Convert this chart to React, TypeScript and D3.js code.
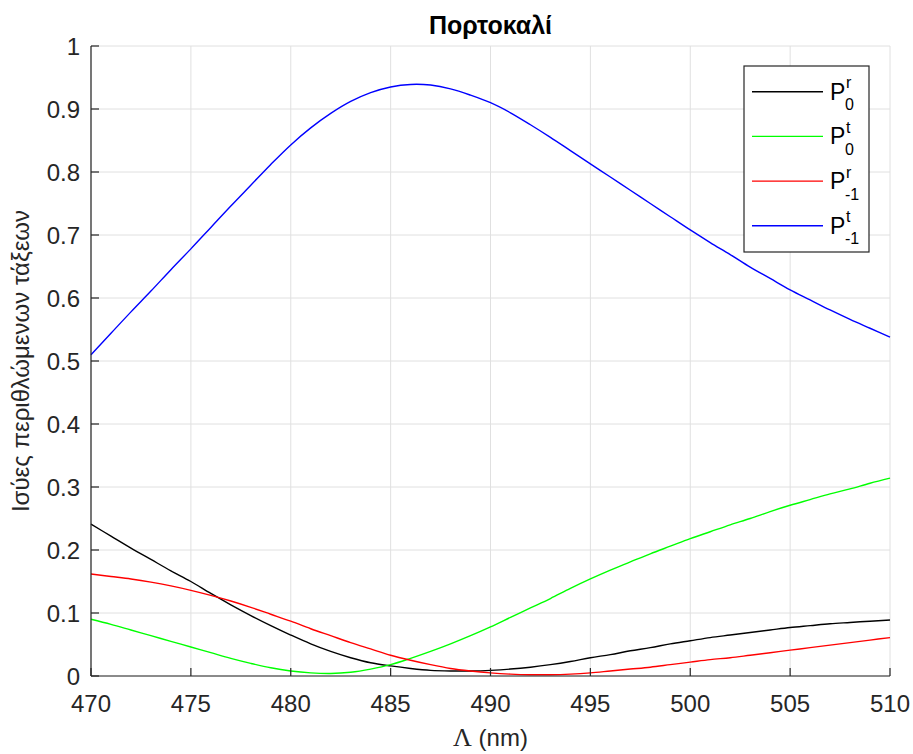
import React from "react";
import * as d3 from "d3";

const W = 913;
const H = 754;
const MARGIN = { top: 46, right: 23, bottom: 78, left: 91 };
const INNER_W = W - MARGIN.left - MARGIN.right;
const INNER_H = H - MARGIN.top - MARGIN.bottom;

const FONT = '"Liberation Sans", Arial, Helvetica, sans-serif';
const AXIS_COLOR = "#262626";
const GRID_COLOR = "#e0e0e0";

const TITLE = "Πορτοκαλί";
const Y_LABEL = "Ισύες περιθλώμενων τάξεων";

const X_TICKS = [470, 475, 480, 485, 490, 495, 500, 505, 510];
const Y_TICKS = [0, 0.1, 0.2, 0.3, 0.4, 0.5, 0.6, 0.7, 0.8, 0.9, 1];
const Y_TICK_LABELS = ["0", "0.1", "0.2", "0.3", "0.4", "0.5", "0.6", "0.7", "0.8", "0.9", "1"];

// wavelength samples (nm)
const LAMBDA = [
  470, 471, 472, 473, 474, 475, 476, 477, 478, 479, 480, 481, 482, 483, 484,
  485, 486, 487, 488, 489, 490, 491, 492, 493, 494, 495, 496, 497, 498, 499,
  500, 501, 502, 503, 504, 505, 506, 507, 508, 509, 510,
];

const P0_R = [
  0.241, 0.222, 0.203, 0.185, 0.167, 0.15, 0.131, 0.113, 0.096, 0.08, 0.065,
  0.051, 0.039, 0.029, 0.021, 0.016, 0.012, 0.009, 0.008, 0.008, 0.009, 0.011,
  0.014, 0.018, 0.023, 0.029, 0.034, 0.04, 0.045, 0.051, 0.056, 0.061, 0.065,
  0.069, 0.073, 0.077, 0.08, 0.083, 0.085, 0.087, 0.089,
];

const P0_T = [
  0.09, 0.082, 0.073, 0.064, 0.055, 0.046, 0.037, 0.028, 0.02, 0.013, 0.008,
  0.005, 0.004, 0.006, 0.011, 0.018, 0.028, 0.039, 0.051, 0.064, 0.078, 0.093,
  0.108, 0.123, 0.139, 0.154, 0.168, 0.181, 0.194, 0.206, 0.218, 0.229, 0.24,
  0.25, 0.261, 0.271, 0.28, 0.289, 0.297, 0.306, 0.314,
];

const PM1_R = [
  0.162, 0.158, 0.154, 0.149, 0.143, 0.136, 0.128, 0.119, 0.109, 0.098, 0.087,
  0.075, 0.064, 0.053, 0.043, 0.033, 0.025, 0.018, 0.012, 0.008, 0.005, 0.003,
  0.002, 0.002, 0.003, 0.005, 0.008, 0.011, 0.014, 0.018, 0.022, 0.026, 0.029,
  0.033, 0.037, 0.041, 0.045, 0.049, 0.053, 0.057, 0.061,
];

const PM1_T = [
  0.51, 0.544, 0.578, 0.611, 0.645, 0.678, 0.712, 0.746, 0.779, 0.812, 0.843,
  0.87, 0.893, 0.912, 0.926, 0.935, 0.939, 0.938, 0.932, 0.922, 0.91, 0.894,
  0.875, 0.855, 0.834, 0.813, 0.792, 0.771, 0.75, 0.729, 0.708, 0.688, 0.669,
  0.649, 0.631, 0.613, 0.597, 0.581, 0.566, 0.552, 0.538,
];

const SERIES = [
  { key: "p0r", values: P0_R, color: "#000000", sup: "r", sub: "0" },
  { key: "p0t", values: P0_T, color: "#00ff00", sup: "t", sub: "0" },
  { key: "pm1r", values: PM1_R, color: "#ff0000", sup: "r", sub: "-1" },
  { key: "pm1t", values: PM1_T, color: "#0000ff", sup: "t", sub: "-1" },
];

export default function App() {
  const x = d3.scaleLinear().domain([470, 510]).range([0, INNER_W]);
  const y = d3.scaleLinear().domain([0, 1]).range([INNER_H, 0]);

  const line = d3
    .line<number>()
    .x((_, i) => x(LAMBDA[i]))
    .y((v) => y(v))
    .curve(d3.curveCatmullRom.alpha(0.5));

  const legend = { x: 653, y: 20, w: 125, h: 186, rowH: 44.7 };

  return (
    <div>
      <style>{`body{margin:0;background:#fff}`}</style>
      <svg width={W} height={H} style={{ display: "block", fontFamily: FONT }}>
        <rect width={W} height={H} fill="#ffffff" />
        <text
          x={MARGIN.left + INNER_W / 2}
          y={34}
          textAnchor="middle"
          fontSize={25}
          fontWeight={700}
          fill="#000"
        >
          {TITLE}
        </text>

        <g transform={`translate(${MARGIN.left},${MARGIN.top})`}>
          {/* grid */}
          {X_TICKS.map((t) => (
            <line
              key={`gx${t}`}
              x1={x(t)}
              x2={x(t)}
              y1={0}
              y2={INNER_H}
              stroke={GRID_COLOR}
              strokeWidth={1}
            />
          ))}
          {Y_TICKS.map((t) => (
            <line
              key={`gy${t}`}
              x1={0}
              x2={INNER_W}
              y1={y(t)}
              y2={y(t)}
              stroke={GRID_COLOR}
              strokeWidth={1}
            />
          ))}

          {/* curves */}
          {SERIES.map((s) => (
            <path
              key={s.key}
              d={line(s.values) || ""}
              fill="none"
              stroke={s.color}
              strokeWidth={1.4}
            />
          ))}

          {/* axes */}
          <line x1={0} x2={0} y1={0} y2={INNER_H} stroke={AXIS_COLOR} strokeWidth={1.2} />
          <line x1={0} x2={INNER_W} y1={INNER_H} y2={INNER_H} stroke={AXIS_COLOR} strokeWidth={1.2} />
          {X_TICKS.map((t) => (
            <g key={`tx${t}`}>
              <line
                x1={x(t)}
                x2={x(t)}
                y1={INNER_H}
                y2={INNER_H - 8}
                stroke={AXIS_COLOR}
                strokeWidth={1.2}
              />
              <text
                x={x(t)}
                y={INNER_H + 36}
                textAnchor="middle"
                fontSize={24}
                fill={AXIS_COLOR}
              >
                {t}
              </text>
            </g>
          ))}
          {Y_TICKS.map((t, i) => (
            <g key={`ty${t}`}>
              <line
                x1={0}
                x2={8}
                y1={y(t)}
                y2={y(t)}
                stroke={AXIS_COLOR}
                strokeWidth={1.2}
              />
              <text
                x={-11}
                y={y(t)}
                dy="0.36em"
                textAnchor="end"
                fontSize={24}
                fill={AXIS_COLOR}
              >
                {Y_TICK_LABELS[i]}
              </text>
            </g>
          ))}

          {/* legend */}
          <g transform={`translate(${legend.x},${legend.y})`}>
            <rect
              x={0}
              y={0}
              width={legend.w}
              height={legend.h}
              fill="#fff"
              stroke={AXIS_COLOR}
              strokeWidth={1.2}
            />
            {SERIES.map((s, i) => {
              const cy = 25.7 + i * legend.rowH;
              return (
                <g key={`lg${s.key}`}>
                  <line x1={8} x2={79} y1={cy} y2={cy} stroke={s.color} strokeWidth={1.4} />
                  <text x={86} y={cy + 8} fontSize={23} fill="#000">
                    P
                  </text>
                  <text x={102} y={cy - 3.5} fontSize={16} fill="#000">
                    {s.sup}
                  </text>
                  <text x={101} y={cy + 18.5} fontSize={16} fill="#000">
                    {s.sub}
                  </text>
                </g>
              );
            })}
          </g>
        </g>

        {/* axis labels */}
        <text
          transform={`translate(29,${MARGIN.top + INNER_H / 2}) rotate(-90)`}
          textAnchor="middle"
          fontSize={24}
          fill={AXIS_COLOR}
        >
          {Y_LABEL}
        </text>
        <text
          x={MARGIN.left + INNER_W / 2}
          y={746}
          textAnchor="middle"
          fontSize={24}
          fill={AXIS_COLOR}
        >
          <tspan fontFamily='"Liberation Serif", "Times New Roman", serif' fontSize={26}>
            Λ
          </tspan>
          <tspan> (nm)</tspan>
        </text>
      </svg>
    </div>
  );
}
